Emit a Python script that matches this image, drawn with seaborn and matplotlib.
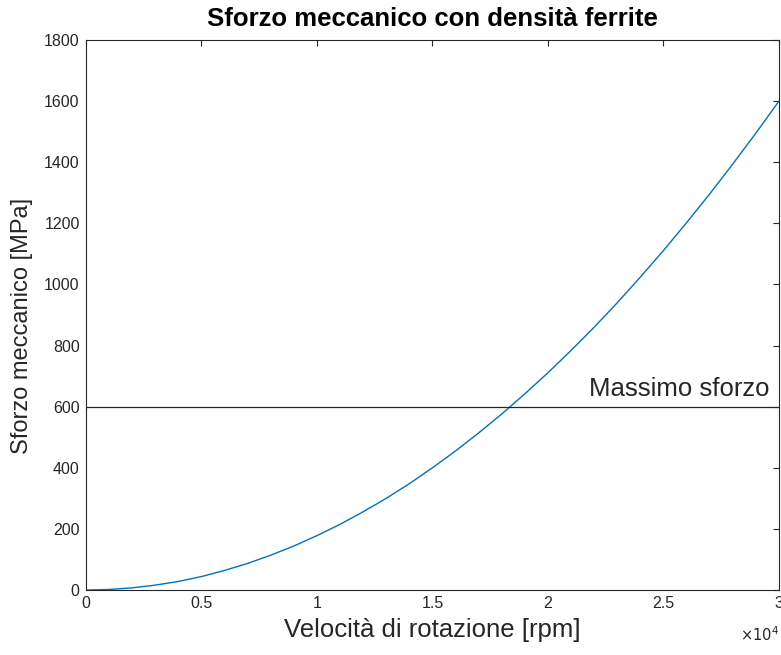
import matplotlib
matplotlib.use("Agg")
import matplotlib.pyplot as plt
import seaborn as sns
import numpy as np
import pandas as pd

# Rotation speed [rpm] and mechanical stress [MPa]
speed_rpm = [0, 1000, 2000, 3000, 4000, 5000, 6000, 7000, 8000, 9000, 10000,
             11000, 12000, 13000, 14000, 15000, 16000, 17000, 18000, 19000, 20000,
             21000, 22000, 23000, 24000, 25000, 26000, 27000, 28000, 29000, 30000]
stress_mpa = [0, 1.8, 7.1, 16, 28, 44, 64, 87, 114, 144, 178,
              215, 256, 300, 348, 400, 455, 514, 576, 642, 711,
              784, 860, 940, 1024, 1111, 1202, 1296, 1394, 1495, 1600]
max_stress = 600

x_ticks = [0, 5000, 10000, 15000, 20000, 25000, 30000]
x_tick_labels = ["0", "0.5", "1", "1.5", "2", "2.5", "3"]
y_ticks = [0, 200, 400, 600, 800, 1000, 1200, 1400, 1600, 1800]

df = pd.DataFrame({"speed": speed_rpm, "stress": stress_mpa})

sns.set_theme(style="white")
plt.rcParams["font.family"] = ["Liberation Sans", "DejaVu Sans"]

fig = plt.figure(figsize=(7.81, 6.55), dpi=100)
ax = fig.add_axes([0.110, 0.0992, 0.8874, 0.8398])

sns.lineplot(data=df, x="speed", y="stress", ax=ax, color="#0072BD", linewidth=1.0)
ax.axhline(max_stress, color="#262626", linewidth=0.9)
ax.text(29600, max_stress + 18, "Massimo sforzo", ha="right", va="bottom",
        fontsize=18.5, color="#262626")

ax.set_xlim(0, 30000)
ax.set_ylim(0, 1800)
ax.set_xticks(x_ticks)
ax.set_xticklabels(x_tick_labels)
ax.set_yticks(y_ticks)
ax.tick_params(axis="both", which="both", direction="in", length=4.5, width=0.8,
               labelsize=11.5, labelcolor="#262626", color="#262626",
               top=True, right=True, pad=4.5)

for s in ax.spines.values():
    s.set_color("#262626")
    s.set_linewidth(0.8)

ax.set_xlabel("Velocità di rotazione [rpm]", fontsize=18.5, color="#262626", labelpad=5)
ax.set_ylabel("Sforzo meccanico [MPa]", fontsize=17, color="#262626", labelpad=5)
ax.yaxis.set_label_coords(-0.076, 0.48)
ax.set_title("Sforzo meccanico con densità ferrite", fontsize=18.5, fontweight="bold",
             color="black", pad=10)

ax.text(1.0, -0.082, r"$\times10^{4}$", transform=ax.transAxes, ha="right", va="center",
        fontsize=10.5, color="#262626")

fig.savefig("out.png", dpi=100)
